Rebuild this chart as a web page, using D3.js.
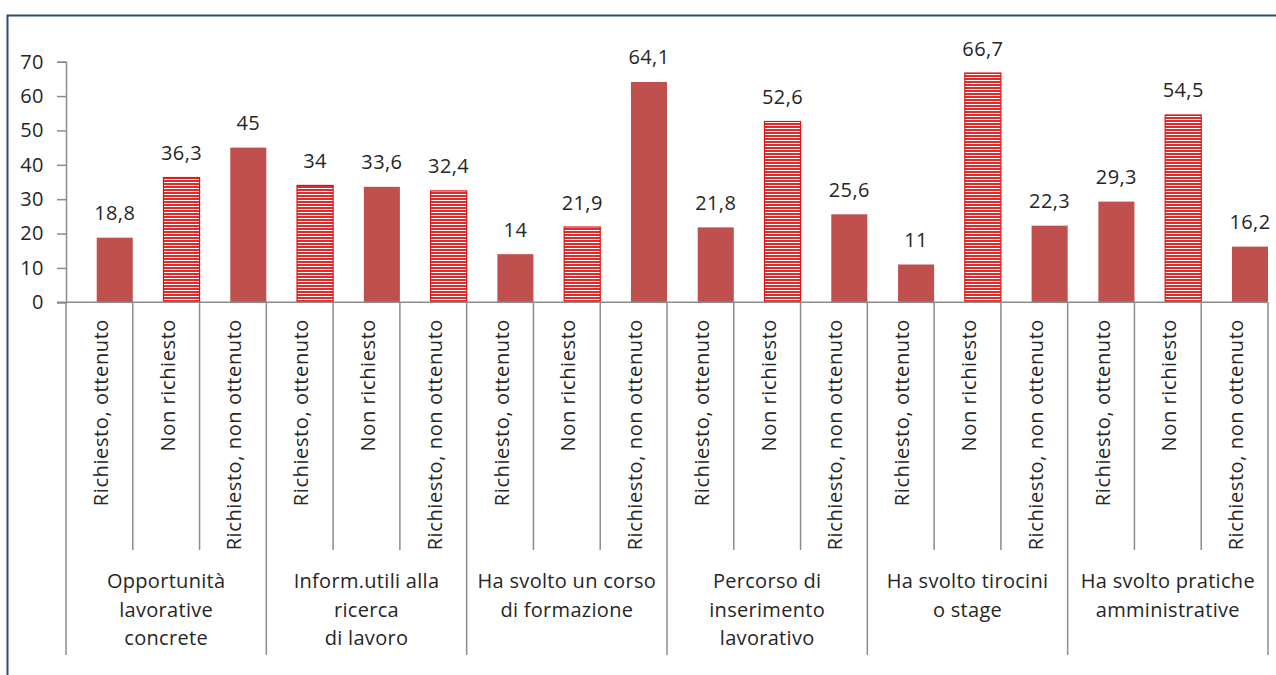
<!DOCTYPE html>
<html lang="it">
<head>
<meta charset="utf-8">
<script src="https://cdn.jsdelivr.net/npm/d3@7/dist/d3.min.js"></script>
<style>
  html, body { margin: 0; padding: 0; background: #ffffff; }
  svg { display: block; font-family: "Open Sans", "Noto Sans", sans-serif; }
</style>
</head>
<body>
<svg id="chart" width="1276" height="675"></svg>
<script>
// Servizi: gruppi (etichette su più righe)
const gruppi = [
  ["Opportunità", "lavorative", "concrete"],
  ["Inform.utili alla", "ricerca", "di lavoro"],
  ["Ha svolto un corso", "di formazione"],
  ["Percorso di", "inserimento", "lavorativo"],
  ["Ha svolto tirocini", "o stage"],
  ["Ha svolto pratiche", "amministrative"]
];

// Esito per ciascun servizio
const esiti = ["Richiesto, ottenuto", "Non richiesto", "Richiesto, non ottenuto"];

// Valori (%) — serie a tinta piena e serie tratteggiata
const serieTinta = [18.8, null, 45, null, 33.6, null, 14, null, 64.1, 21.8, null, 25.6, 11, null, 22.3, 29.3, null, 16.2];
const serieTratteggio = [null, 36.3, null, 34, null, 32.4, null, 21.9, null, null, 52.6, null, null, 66.7, null, null, 54.5, null];

// Etichette dell'asse dei valori
const tickValori = [0, 10, 20, 30, 40, 50, 60, 70];

const svg = d3.select("#chart");

// Cornice
svg.append("path")
  .attr("d", "M7.5,675 V15.5 H1276")
  .attr("fill", "none")
  .attr("stroke", "#2b4a76")
  .attr("stroke-width", 2);

// Motivo a righe orizzontali
const defs = svg.append("defs");
const pat = defs.append("pattern")
  .attr("id", "righe")
  .attr("patternUnits", "userSpaceOnUse")
  .attr("width", 6).attr("height", 3);
pat.append("rect").attr("width", 6).attr("height", 3).attr("fill", "#ffffff");
pat.append("rect").attr("width", 6).attr("height", 2).attr("fill", "#dd2c2c");

const barre = d3.range(gruppi.length * esiti.length).map(i => ({
  i,
  gruppo: Math.floor(i / esiti.length),
  esito: esiti[i % esiti.length],
  valore: serieTinta[i] != null ? serieTinta[i] : serieTratteggio[i],
  tratteggio: serieTratteggio[i] != null
}));

const x = d3.scaleBand().domain(d3.range(barre.length)).range([66, 1268]).padding(0);
const y = d3.scaleLinear().domain([0, 70]).range([302.3, 61.7]);
const bw = x.bandwidth();
const larghezzaBarra = bw * 0.54;

const fmt = d3.formatLocale({ decimal: ",", thousands: ".", grouping: [3], currency: ["", "€"] }).format("~g");

// Asse dei valori
const assey = svg.append("g")
  .attr("transform", "translate(66,0)")
  .call(d3.axisLeft(y).tickValues(tickValori).tickSize(9).tickPadding(13).tickFormat(d3.format("d")));
assey.select(".domain").attr("stroke", "#8c8c8c").attr("stroke-width", 1.5);
assey.selectAll(".tick line").attr("stroke", "#8c8c8c").attr("stroke-width", 1.5);
assey.selectAll(".tick text")
  .attr("font-family", "'Open Sans', sans-serif")
  .attr("font-size", 20)
  .attr("letter-spacing", 0.5)
  .attr("fill", "#262626");

// Barre
svg.append("g").selectAll("rect")
  .data(barre)
  .join("rect")
  .attr("x", d => x(d.i) + bw - larghezzaBarra)
  .attr("width", larghezzaBarra)
  .attr("y", d => y(d.valore))
  .attr("height", d => y(0) - y(d.valore))
  .attr("fill", d => d.tratteggio ? "url(#righe)" : "#c0504d")
  .attr("stroke", d => d.tratteggio ? "#e01010" : "none")
  .attr("stroke-width", 1.2);

// Asse delle categorie e separatori
svg.append("line")
  .attr("x1", 57).attr("x2", 1268)
  .attr("y1", y(0)).attr("y2", y(0))
  .attr("stroke", "#8c8c8c").attr("stroke-width", 1.5);

svg.append("g").selectAll("line")
  .data(d3.range(barre.length + 1))
  .join("line")
  .attr("x1", i => (i < barre.length ? x(i) : x(barre.length - 1) + bw))
  .attr("x2", i => (i < barre.length ? x(i) : x(barre.length - 1) + bw))
  .attr("y1", y(0))
  .attr("y2", i => (i % esiti.length === 0 ? 655 : 550))
  .attr("stroke", "#8c8c8c")
  .attr("stroke-width", 1.5);

// Valori sopra le barre
svg.append("g").selectAll("text")
  .data(barre)
  .join("text")
  .attr("x", d => x(d.i) + bw - larghezzaBarra / 2)
  .attr("y", d => y(d.valore) - 17.5)
  .attr("text-anchor", "middle")
  .attr("font-size", 20)
  .attr("letter-spacing", 0.4)
  .attr("fill", "#262626")
  .text(d => fmt(d.valore));

// Etichette di esito (ruotate)
svg.append("g").selectAll("text")
  .data(barre)
  .join("text")
  .attr("transform", d => `translate(${x(d.i) + bw / 2 + 1.5},319) rotate(-90)`)
  .attr("text-anchor", "end")
  .attr("dy", "0.35em")
  .attr("font-size", 20)
  .attr("letter-spacing", 0.6)
  .attr("fill", "#262626")
  .text(d => d.esito);

// Etichette di gruppo
const gx = svg.append("g").selectAll("text")
  .data(gruppi)
  .join("text")
  .attr("text-anchor", "middle")
  .attr("font-size", 20)
  .attr("letter-spacing", 0.3)
  .attr("fill", "#262626");
gx.each(function (righe, g) {
  const cx = x(g * esiti.length) + bw * esiti.length / 2;
  d3.select(this).selectAll("tspan")
    .data(righe)
    .join("tspan")
    .attr("x", cx)
    .attr("y", (r, k) => 588 + k * 28.7)
    .text(r => r);
});
</script>
</body>
</html>
